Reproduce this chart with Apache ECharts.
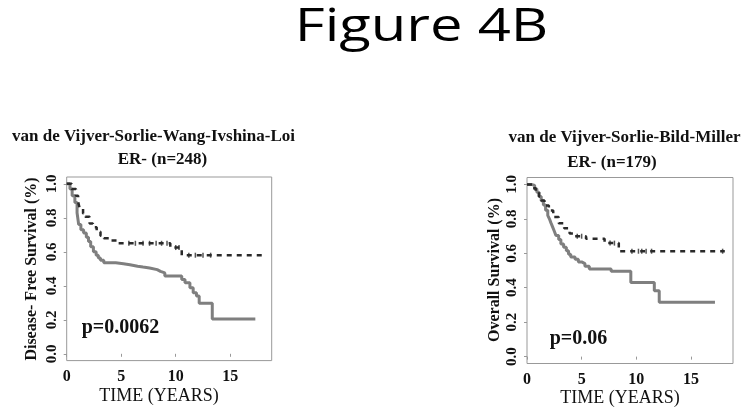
<!DOCTYPE html>
<html>
<head>
<meta charset="utf-8">
<script src="https://cdn.jsdelivr.net/npm/echarts@6/dist/echarts.min.js"></script>
<style>html,body{margin:0;padding:0;background:#fff;}#c{width:754px;height:414px;}</style>
</head>
<body>
<div id="c"></div>
<script>
// Left panel: Disease-free survival, ER- (n=248) — [time (years), survival]
var leftHigh = [[0,1],[0.45,0.97],[0.85,0.93],[1.05,0.893],[1.2,0.854],[1.5,0.825],[1.7,0.806],[2.1,0.767],[2.4,0.745],[2.75,0.718],[3.1,0.695],[3.4,0.68],[4.0,0.667],[4.6,0.65],[9.5,0.625],[10.55,0.58],[18.2,0.58]];
var leftLow = [[0,1],[0.3,0.97],[0.5,0.93],[0.75,0.89],[0.95,0.83],[1.1,0.76],[1.3,0.73],[1.55,0.71],[1.8,0.685],[2.0,0.66],[2.2,0.63],[2.45,0.6],[2.7,0.58],[2.9,0.563],[3.1,0.55],[3.4,0.535],[4.5,0.53],[5.2,0.524],[5.8,0.515],[6.5,0.51],[7.0,0.505],[7.6,0.495],[8.3,0.485],[8.6,0.476],[9.0,0.458],[10.55,0.437],[10.85,0.418],[11.3,0.388],[11.6,0.359],[11.9,0.34],[12.15,0.297],[13.35,0.204],[17.3,0.204]];
var leftHighCensor = [[5.7,0.65],[6.3,0.65],[7.0,0.65],[7.6,0.65],[8.2,0.65],[8.7,0.65],[9.2,0.65],[10.0,0.625],[10.3,0.625],[11.2,0.58],[11.8,0.58],[12.5,0.58],[13.2,0.58]];
// Right panel: Overall survival, ER- (n=179)
var rightHigh = [[0,1],[0.5,0.978],[0.8,0.956],[1.1,0.93],[1.3,0.907],[1.6,0.878],[2.0,0.848],[2.4,0.81],[2.9,0.775],[3.4,0.745],[3.9,0.715],[4.4,0.699],[5.4,0.684],[7.1,0.659],[8.4,0.612],[18.1,0.612]];
var rightLow = [[0,1],[0.4,0.994],[0.7,0.975],[0.9,0.955],[1.1,0.93],[1.3,0.905],[1.5,0.88],[1.7,0.85],[1.9,0.82],[2.05,0.8],[2.2,0.775],[2.35,0.752],[2.5,0.728],[2.65,0.703],[2.9,0.68],[3.1,0.654],[3.35,0.635],[3.6,0.615],[3.8,0.595],[4.0,0.578],[4.4,0.565],[4.7,0.55],[5.0,0.54],[5.3,0.525],[5.7,0.509],[7.7,0.495],[9.5,0.431],[11.65,0.382],[12.1,0.315],[17.2,0.315]];
var rightHighCensor = [[4.6,0.699],[5.0,0.699],[7.6,0.659],[8.0,0.659],[9.6,0.612],[10.2,0.612],[10.5,0.612],[10.9,0.612],[11.4,0.612],[17.9,0.612]];
var xTicks = [0,5,10,15];
var yTicks = [0,0.2,0.4,0.6,0.8,1.0];
var yTickLabels = ['0.0','0.2','0.4','0.6','0.8','1.0'];

var SERIF = '"Liberation Serif","Times New Roman",serif';
var chart = echarts.init(document.getElementById('c'), null, {renderer:'canvas'});

function xAx(gi, max){
  return {type:'value', gridIndex:gi, min:0, max:max,
    axisLine:{show:false}, splitLine:{show:false},
    axisTick:{show:true, length:3, customValues:xTicks, lineStyle:{color:'#999'}},
    axisLabel:{customValues:xTicks, color:'#111', fontFamily:SERIF, fontWeight:'bold', fontSize:16, margin:8}};
}
function yAx(gi){
  return {type:'value', gridIndex:gi, min:-0.04, max:1.04,
    axisLine:{show:false}, splitLine:{show:false},
    axisTick:{show:true, length:3, customValues:yTicks, lineStyle:{color:'#999'}},
    axisLabel:{customValues:yTicks, rotate:90, color:'#111', fontFamily:SERIF, fontWeight:'bold', fontSize:15, margin:7,
      formatter:function(v){return yTickLabels[yTicks.indexOf(Math.round(v*10)/10)] || v.toFixed(1);}}};
}
function solid(xi, d){ return {type:'line', xAxisIndex:xi, yAxisIndex:xi, data:d, step:'end', showSymbol:false, symbol:'none',
  lineStyle:{color:'#7f7f7f', width:3}, z:3, animation:false}; }
function dashed(xi, d){ return {type:'line', xAxisIndex:xi, yAxisIndex:xi, data:d, step:'end', showSymbol:false, symbol:'none',
  lineStyle:{color:'#2a2a2a', width:2.5, type:[5,5]}, z:4, animation:false}; }
function censor(xi, d){ return {type:'scatter', xAxisIndex:xi, yAxisIndex:xi, data:d, symbol:'rect', symbolSize:[1.5,5],
  itemStyle:{color:'#2a2a2a'}, z:5, animation:false, silent:true}; }

function txt(x, y, s, size, weight, opts){
  var o = {type:'text', x:x, y:y, style:{text:s, fontFamily:SERIF, fontSize:size, fontWeight:weight||'normal', fill:'#111', textAlign:'center', textVerticalAlign:'middle'}, silent:true};
  if (opts) for (var k in opts) o[k] = opts[k];
  return o;
}

chart.setOption({
  backgroundColor:'#fff',
  animation:false,
  grid:[
    {left:66.7, top:177, width:205, height:183.6, show:true, borderColor:'#999', borderWidth:1, backgroundColor:'transparent'},
    {left:527, top:177.5, width:206, height:186, show:true, borderColor:'#999', borderWidth:1, backgroundColor:'transparent'}
  ],
  xAxis:[xAx(0, 18.8), xAx(1, 18.85)],
  yAxis:[yAx(0), yAx(1)],
  series:[
    solid(0, leftLow), dashed(0, leftHigh), censor(0, leftHighCensor),
    solid(1, rightLow), dashed(1, rightHigh), censor(1, rightHighCensor)
  ],
  graphic:[
    {type:'text', x:421.5, y:28, scaleX:1.26, style:{text:'Figure 4B', fontFamily:'"Open Sans",sans-serif', fontSize:46, fill:'#000', textAlign:'center', textVerticalAlign:'middle'}, silent:true},
    txt(153.5, 137, 'van de Vijver-Sorlie-Wang-Ivshina-Loi', 17, 'bold'),
    txt(162.5, 160, 'ER- (n=248)', 17, 'bold'),
    txt(624.5, 138, 'van de Vijver-Sorlie-Bild-Miller', 17, 'bold'),
    txt(612, 163, 'ER- (n=179)', 17, 'bold'),
    txt(159, 396, 'TIME (YEARS)', 18, 'normal'),
    txt(620, 398, 'TIME (YEARS)', 18, 'normal'),
    txt(32, 269, 'Disease- Free Survival (%)', 16, 'bold', {rotation:Math.PI/2}),
    txt(495, 270, 'Overall Survival (%)', 16, 'bold', {rotation:Math.PI/2}),
    txt(120.5, 328, 'p=0.0062', 20, 'bold'),
    txt(578.5, 339, 'p=0.06', 20, 'bold')
  ]
});
</script>
</body>
</html>
